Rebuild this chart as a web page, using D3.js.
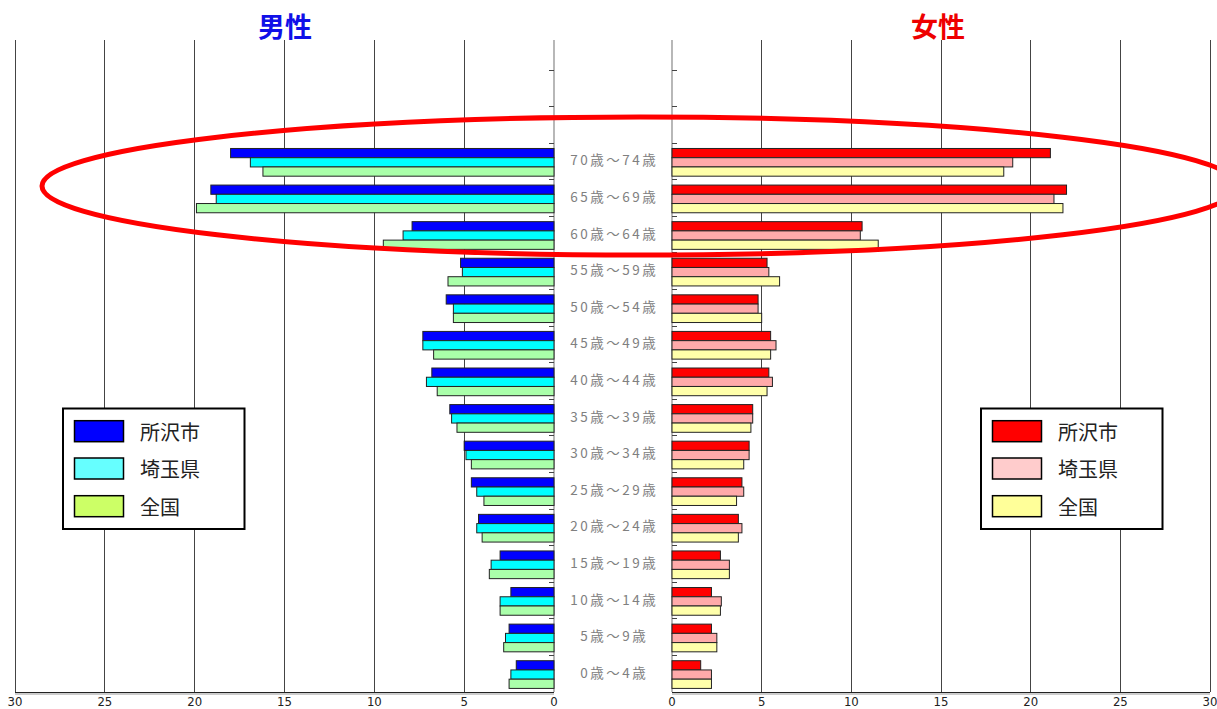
<!DOCTYPE html>
<html><head><meta charset="utf-8">
<script src="https://cdn.jsdelivr.net/npm/d3@7"></script>
<style>
html,body{margin:0;padding:0;background:#fff;}
svg{display:block;}
</style></head>
<body>
<svg id="chart" width="1217" height="709"></svg>
<script>
// ---- data ----
const ages = ["0歳～4歳","5歳～9歳","10歳～14歳","15歳～19歳","20歳～24歳","25歳～29歳","30歳～34歳","35歳～39歳","40歳～44歳","45歳～49歳","50歳～54歳","55歳～59歳","60歳～64歳","65歳～69歳","70歳～74歳"];
const emptyRows = ["blank1","blank2"];
const seriesNames = ["所沢市","埼玉県","全国"];
const maleCity = [2.1,2.5,2.4,3.0,4.2,4.6,5.0,5.8,6.8,7.3,6.0,5.2,7.9,19.1,18.0];
const maleKen  = [2.4,2.7,3.0,3.5,4.3,4.3,4.9,5.7,7.1,7.3,5.6,5.1,8.4,18.8,16.9];
const maleNat  = [2.5,2.8,3.0,3.6,4.0,3.9,4.6,5.4,6.5,6.7,5.6,5.9,9.5,19.9,16.2];
const femCity  = [1.6,2.2,2.2,2.7,3.7,3.9,4.3,4.5,5.4,5.5,4.8,5.3,10.6,22.0,21.1];
const femKen   = [2.2,2.5,2.75,3.2,3.9,4.0,4.3,4.5,5.6,5.8,4.8,5.4,10.5,21.3,19.0];
const femNat   = [2.2,2.5,2.7,3.2,3.7,3.6,4.0,4.4,5.3,5.5,5.0,6.0,11.5,21.8,18.5];
const xTicks = [0,5,10,15,20,25,30];
const maleColors = ["#0000ff","#00ffff","#aaffaa"];
const femColors  = ["#ff0000","#ffaaaa","#ffffaa"];
const maleLegendColors = ["#0000ff","#66ffff","#ccff66"];
const femLegendColors  = ["#ff0000","#ffcccc","#ffff99"];

const svg = d3.select("#chart");
const plotTop = 40, plotBottom = 692;
const xL = d3.scaleLinear().domain([0,30]).range([554,15]);
const xR = d3.scaleLinear().domain([0,30]).range([672,1210]);
const rows = ages.slice().reverse();
const y = d3.scaleBand().domain(emptyRows.concat(rows)).range([70,plotBottom]);
const yInner = d3.scaleBand().domain(seriesNames).range([5.3,33]);

// gridlines
function grid(x){
  svg.append("g").selectAll("line").data(xTicks.filter(d=>d>0)).join("line")
    .attr("x1",d=>x(d)).attr("x2",d=>x(d)).attr("y1",plotTop).attr("y2",plotBottom)
    .attr("stroke","#444").attr("stroke-width",1).attr("shape-rendering","crispEdges");
}
grid(xL); grid(xR);
// zero lines
[554,672].forEach(px=>svg.append("line").attr("x1",px).attr("x2",px).attr("y1",plotTop).attr("y2",plotBottom)
  .attr("stroke","#888").attr("stroke-width",1.2));

// band ticks
const boundaries = y.domain().map(d=>y(d));
svg.append("g").selectAll("line").data(boundaries).join("line")
  .attr("x1",549).attr("x2",554).attr("y1",d=>d).attr("y2",d=>d).attr("stroke","#444").attr("shape-rendering","crispEdges");
svg.append("g").selectAll("line").data(boundaries).join("line")
  .attr("x1",672).attr("x2",677).attr("y1",d=>d).attr("y2",d=>d).attr("stroke","#444").attr("shape-rendering","crispEdges");

// bars
function bars(x, arrays, colors, left){
  arrays.forEach((arr,si)=>{
    svg.append("g").selectAll("rect").data(arr.map((v,i)=>({v,age:ages[i]}))).join("rect")
      .attr("x",d=> left ? x(d.v) : x(0))
      .attr("width",d=> Math.abs(x(d.v)-x(0)))
      .attr("y",d=> y(d.age)+yInner(seriesNames[si]))
      .attr("height",yInner.bandwidth())
      .attr("fill",colors[si]).attr("stroke","#222").attr("stroke-width",1);
  });
}
bars(xL,[maleCity,maleKen,maleNat],maleColors,true);
bars(xR,[femCity,femKen,femNat],femColors,false);

// center labels
svg.append("g").selectAll("text").data(ages).join("text")
  .attr("x",613+1.3).attr("y",d=>y(d)+y.bandwidth()/2-2)
  .attr("text-anchor","middle").attr("dominant-baseline","central")
  .attr("font-family","'Noto Sans CJK JP', sans-serif").attr("font-size",13.5)
  .attr("letter-spacing","2.5px").attr("fill","#808080").text(d=>d);

// bottom axes
function axis(x){
  svg.append("line").attr("x1",x(0)).attr("x2",x(30)).attr("y1",plotBottom+0.5).attr("y2",plotBottom+0.5).attr("stroke","#222").attr("stroke-width",1);
  svg.append("line").attr("x1",x(0)).attr("x2",x(30)).attr("y1",plotBottom+2).attr("y2",plotBottom+2).attr("stroke","#bbb").attr("stroke-width",1.5);
  svg.append("g").selectAll("text").data(xTicks).join("text")
    .attr("x",d=>x(d)).attr("y",706).attr("text-anchor","middle")
    .attr("font-family","'Liberation Sans Narrow','DejaVu Sans Condensed',sans-serif").attr("font-size",13)
    .attr("fill","#222").text(d=>d);
}
axis(xL); axis(xR);

// titles
svg.append("text").attr("x",285).attr("y",37).attr("text-anchor","middle")
  .attr("font-family","'Noto Sans CJK JP', sans-serif").attr("font-weight","bold").attr("font-size",27)
  .attr("fill","#1010e8").text("男性");
svg.append("text").attr("x",938).attr("y",37).attr("text-anchor","middle")
  .attr("font-family","'Noto Sans CJK JP', sans-serif").attr("font-weight","bold").attr("font-size",27)
  .attr("fill","#ee0000").text("女性");

// legends
function legend(x0, colors){
  const g = svg.append("g");
  g.append("rect").attr("x",x0).attr("y",408.5).attr("width",181.5).attr("height",120.5)
    .attr("fill","#fff").attr("stroke","#000").attr("stroke-width",2);
  const ys = [420.7,458,495.7];
  seriesNames.forEach((n,i)=>{
    g.append("rect").attr("x",x0+11.5).attr("y",ys[i]).attr("width",49).attr("height",21)
      .attr("fill",colors[i]).attr("stroke","#000").attr("stroke-width",1.5);
    g.append("text").attr("x",x0+77).attr("y",ys[i]+10.5).attr("dominant-baseline","central")
      .attr("font-family","'Noto Sans CJK JP', sans-serif").attr("font-size",20).attr("fill","#222").text(n);
  });
}
legend(63, maleLegendColors);
legend(981, femLegendColors);

// annotation ellipse
svg.append("ellipse").attr("cx",640).attr("cy",186).attr("rx",598).attr("ry",69)
  .attr("fill","none").attr("stroke","#ff0000").attr("stroke-width",5);
</script>
</body></html>
